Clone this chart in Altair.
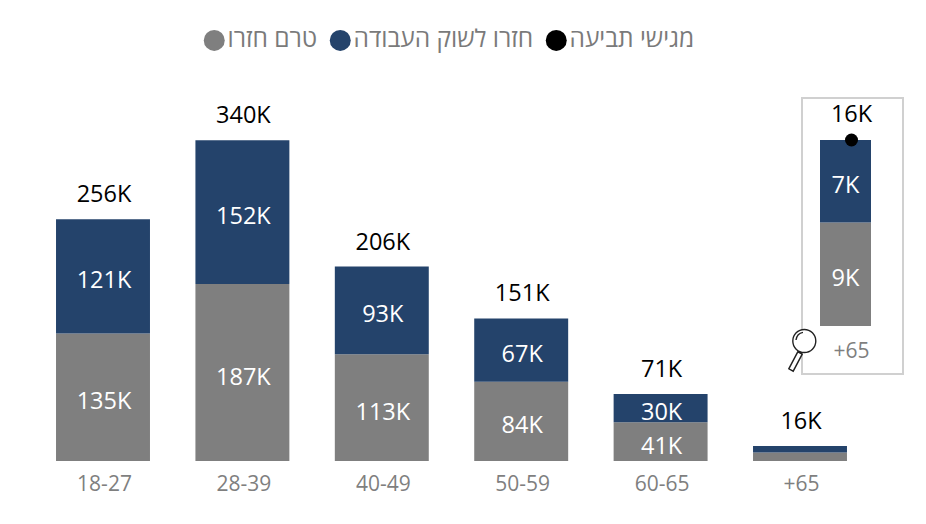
import altair as alt
import pandas as pd

AGES = ["18-27", "28-39", "40-49", "50-59", "60-65", "+65"]
NOT_RETURNED = [135, 187.4, 113, 84, 41, 8.9]
RETURNED = [121, 152.4, 93, 67, 30, 7.1]
TOTALS = [256, 340, 206, 151, 71, 16]
SERIES_NOT = "טרם חזרו"
SERIES_RET = "חזרו לשוק העבודה"
SERIES_CLAIM = "מגישי תביעה"

GRAY = "#7f7f7f"
NAVY = "#24436b"
FONT = "Open Sans"
VAL_SIZE = 23.5
CAT_SIZE = 21

rows = []
for a, n, r, t in zip(AGES, NOT_RETURNED, RETURNED, TOTALS):
    rows.append(dict(age=a, series=SERIES_NOT, y0=0, y1=n, mid=n / 2, label=f"{round(n)}K"))
    rows.append(dict(age=a, series=SERIES_RET, y0=n, y1=n + r, mid=n + r / 2, label=f"{round(r)}K"))
df = pd.DataFrame(rows)
tot = pd.DataFrame(dict(age=AGES, total=TOTALS, zero=[0] * 6, label=[f"{t}K" for t in TOTALS]))
main_lab = df[df.age != "+65"]
inset_df = df[df.age == "+65"]
inset_tot = tot[tot.age == "+65"]
claim = inset_tot.assign(series=SERIES_CLAIM)

color = alt.Color(
    "series:N",
    scale=alt.Scale(domain=[SERIES_NOT, SERIES_RET, SERIES_CLAIM], range=[GRAY, NAVY, "#000000"]),
    legend=alt.Legend(
        title=None, orient="none", legendX=194, legendY=20, direction="horizontal", columns=3,
        symbolType="circle", symbolSize=441, symbolStrokeWidth=0, labelFont=FONT, labelFontSize=24.5,
        labelColor="#7a7a7a", labelOffset=1, labelLimit=400, columnPadding=10, gridAlign="each",
    ),
)

x_scale = alt.Scale(domain=AGES, range=[25.3, 861.7], paddingInner=0.326, paddingOuter=0.163)
x_main = alt.X("age:N", sort=AGES, scale=x_scale, axis=None)
y_main = alt.Scale(domain=[0, 453 / 0.944], range=[453, 0])

bars = alt.Chart(df).mark_bar().encode(
    x=x_main, y=alt.Y("y0:Q", scale=y_main, axis=None), y2="y1:Q", color=color,
)
seg = alt.Chart(main_lab).mark_text(font=FONT, fontSize=VAL_SIZE, color="white", dy=5, dx=1).encode(
    x=x_main, y=alt.Y("mid:Q", scale=y_main, axis=None), text="label:N",
)
tops = alt.Chart(tot).mark_text(font=FONT, fontSize=VAL_SIZE, color="black", baseline="alphabetic", dy=-17, dx=1).encode(
    x=x_main, y=alt.Y("total:Q", scale=y_main, axis=None), text="label:N",
)
cats = alt.Chart(tot).mark_text(font=FONT, fontSize=CAT_SIZE, color="#7f7f7f", dy=24, dx=1.5).encode(
    x=x_main, y=alt.Y("zero:Q", scale=y_main, axis=None), text="age:N",
)
main = alt.layer(bars, seg, tops, cats)

x_in_scale = alt.Scale(domain=["+65"], range=[812, 863], paddingInner=0, paddingOuter=0)
y_in = alt.Scale(domain=[0, 16], range=[318, 132])
x_in = alt.X("age:N", scale=x_in_scale, axis=None)

box = alt.Chart(inset_tot).mark_rect(fill="white", stroke="#d0d0d0", strokeWidth=2).encode(
    x=alt.value(794), x2=alt.value(895), y=alt.value(90), y2=alt.value(366)
)
in_bars = alt.Chart(inset_df).mark_bar().encode(
    x=x_in, y=alt.Y("y0:Q", scale=y_in, axis=None), y2="y1:Q", color=color,
)
in_seg = alt.Chart(inset_df).mark_text(font=FONT, fontSize=VAL_SIZE, color="white", dy=5).encode(
    x=x_in, y=alt.Y("mid:Q", scale=y_in, axis=None), text="label:N"
)
in_top = alt.Chart(inset_tot).mark_text(font=FONT, fontSize=VAL_SIZE, color="black", baseline="alphabetic", dy=-18, dx=6).encode(
    x=x_in, y=alt.Y("total:Q", scale=y_in, axis=None), text="label:N"
)
in_cat = alt.Chart(inset_tot).mark_text(font=FONT, fontSize=CAT_SIZE, color="#7f7f7f", dy=26, dx=6).encode(
    x=x_in, y=alt.Y("zero:Q", scale=y_in, axis=None), text="age:N"
)
dot = alt.Chart(claim).mark_point(filled=True, size=169, opacity=1, shape="circle", xOffset=6).encode(
    x=x_in, y=alt.Y("total:Q", scale=y_in, axis=None), color=color
)
MAG = ("M.215,-1.025 C.533,-1.025 .79,-.768 .79,-.45 C.79,-.132 .533,.125 .215,.125 "
       "C-.103,.125 -.36,-.132 -.36,-.45 C-.36,-.768 -.103,-1.025 .215,-1.025Z "
       "M.11,.21 L-.11,.09 L-.56,.94 L-.34,1.06Z M-.2,-.5 C-.17,-.7 -.03,-.85 .15,-.88")
mag = alt.Chart(inset_tot).mark_point(shape=MAG, size=1600, filled=False, fill="white", stroke="#222222",
                                      strokeWidth=1.4, opacity=1).encode(
    x=alt.value(792), y=alt.value(342)
)
inset = alt.layer(box, in_bars, in_seg, in_top, in_cat, dot, mag)

chart = alt.layer(main, inset).resolve_scale(x="independent", y="independent").properties(
    width=910, height=453,
    padding={"left": 0, "top": 0, "right": 0, "bottom": 55},
    autosize=alt.AutoSizeParams(type="none"),
).configure_view(stroke=None)

chart.save("out.html", embed_options={"renderer": "svg", "actions": False})
